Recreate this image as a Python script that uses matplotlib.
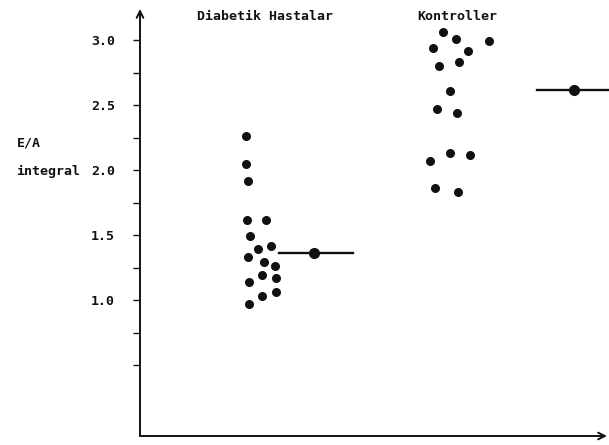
import numpy as np
import matplotlib
matplotlib.use("Agg")
import matplotlib.pyplot as plt

# E/A integral degerleri
diyabetik = [2.26, 2.05, 1.92, 1.62, 1.62, 1.49, 1.39, 1.42, 1.33, 1.29,
             1.26, 1.19, 1.17, 1.14, 1.03, 1.06, 0.97]
diyabetik_kayma = [-0.14, -0.14, -0.12, -0.13, 0.06, -0.10, -0.02, 0.11, -0.12,
                   0.04, 0.15, 0.02, 0.16, -0.11, 0.02, 0.16, -0.11]
kontrol = [3.06, 3.01, 2.99, 2.94, 2.92, 2.80, 2.83, 2.61, 2.47, 2.44,
           2.13, 2.12, 2.07, 1.86, 1.83]
kontrol_kayma = [-0.07, 0.06, 0.39, -0.17, 0.18, -0.11, 0.09, 0.00, -0.13,
                 0.07, 0.00, 0.20, -0.20, -0.15, 0.08]
ortalamalar = [1.36, 2.62]

gruplar = ["Diabetik Hastalar", "Kontroller"]
y_tikler = np.arange(0.5, 3.01, 0.25)
y_etiketler = ["", "", "1.0", "", "1.5", "", "2.0", "", "2.5", "", "3.0"]

font = "DejaVu Sans Mono"
renk = "#111111"
yazi = dict(fontfamily=font, fontsize=9.5, color=renk, fontweight="bold")

Ancho, Largo = 6.09, 4.45
fig = plt.figure(figsize=(Ancho, Largo), dpi=100)
ax = fig.add_axes([140 / 609, 9 / 445, 467 / 609, 427 / 445])

ax.set_xlim(0, 4.67)
ax.set_ylim(-0.046, 3.24)

# noktalar
ax.plot(1.2 + np.array(diyabetik_kayma), diyabetik, "o", color=renk,
        markersize=6.5, markeredgewidth=0)
ax.plot(3.1 + np.array(kontrol_kayma), kontrol, "o", color=renk,
        markersize=6.5, markeredgewidth=0)

# ortalama cizgileri
ax.plot([1.39, 2.13], [ortalamalar[0]] * 2, "-", color=renk, lw=1.7)
ax.plot([1.74], [ortalamalar[0]], "o", color=renk, markersize=7)
ax.plot([3.97, 4.75], [ortalamalar[1]] * 2, "-", color=renk, lw=1.7,
        clip_on=False)
ax.plot([4.34], [ortalamalar[1]], "o", color=renk, markersize=7)

# eksenler
for s in ["top", "right", "left", "bottom"]:
    ax.spines[s].set_visible(False)
ax.annotate("", xy=(0, 1.0), xytext=(0, 0), xycoords="axes fraction",
            arrowprops=dict(arrowstyle="->", color=renk, lw=1.4,
                            shrinkA=0, shrinkB=0, mutation_scale=12))
ax.annotate("", xy=(1.0, 0), xytext=(0, 0), xycoords="axes fraction",
            arrowprops=dict(arrowstyle="->", color=renk, lw=1.4,
                            shrinkA=0, shrinkB=0, mutation_scale=12))

ax.set_xticks([])
ax.set_yticks(y_tikler)
ax.set_yticklabels(y_etiketler, **yazi)
ax.tick_params(axis="y", direction="out", length=5, width=1.0, pad=13,
               color=renk)

# yazilar
fig.text(265 / 609, 1 - 16 / 445, gruplar[0], ha="center", va="center", **yazi)
fig.text(457 / 609, 1 - 17 / 445, gruplar[1], ha="center", va="center", **yazi)
fig.text(17 / 609, 1 - 143 / 445, "E/A", ha="left", va="center", **yazi)
fig.text(16 / 609, 1 - 171 / 445, "integral", ha="left", va="center", **yazi)

fig.savefig("out.png", dpi=100)
